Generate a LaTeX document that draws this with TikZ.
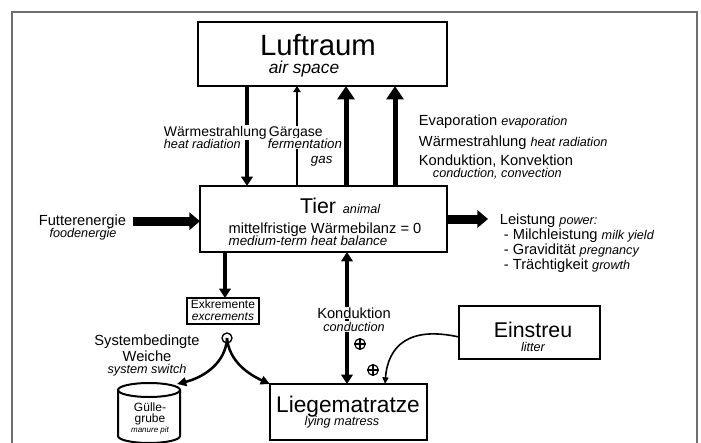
\documentclass[tikz,border=0pt]{standalone}
\usepackage{fontspec}
\setmainfont{Liberation Sans}
\usepackage{tikz}
\usetikzlibrary{arrows.meta}

\newcommand{\engl}[1]{{\fontsize{9.5}{10}\selectfont\itshape #1}}

\begin{document}
\begin{tikzpicture}[x=0.75pt,y=0.75pt,yscale=-1,xscale=1,
  blockbox/.style={draw, line width=2.2pt, inner sep=0pt, outer sep=0pt},
  txt/.style={font=\fontsize{11}{12}\selectfont, inner sep=0.5pt},
  txts/.style={font=\fontsize{10.5}{11}\selectfont, inner sep=0.5pt},
  ital/.style={font=\fontsize{9.5}{10}\selectfont\itshape, inner sep=0.5pt},
  whitebg/.style={fill=white},
  plussign/.style={circle, draw, line width=0.9pt, minimum size=8pt, inner sep=0pt},
  fattip/.tip={Triangle[length=8pt,width=13pt]},
  thicktip/.tip={Triangle[length=10pt,width=12.5pt]},
  medtip/.tip={Triangle[length=7pt,width=8.5pt]},
  thintip/.tip={Triangle[length=4.5pt,width=5.5pt]},
  bendtip/.tip={Triangle[length=7pt,width=6.5pt]},
  smalltip/.tip={Triangle[length=5pt,width=4.5pt]}
  ]
\useasboundingbox (0,0) rectangle (701,443);

%Shape: Frame
\draw [color={rgb, 255:red, 110; green, 110; blue, 110 }, line width=1pt] (12,450) -- (12,12) -- (697,12) -- (697,450) ;

%Shape: Rectangle
\node (luft) [blockbox, minimum width=186.75pt, minimum height=48pt] at (322.5,54) {};
%Shape: Rectangle
\node (tier) [blockbox, minimum width=185.25pt, minimum height=49.5pt] at (323.5,219) {};
%Shape: Rectangle
\node (exkr) [blockbox, line width=1.6pt, minimum width=54pt, minimum height=19.5pt] at (223,311) {};
%Shape: Rectangle
\node (einstreu) [blockbox, minimum width=105.75pt, minimum height=39.75pt] at (529.5,332.5) {};
%Shape: Rectangle
\node (liege) [blockbox, minimum width=117.75pt, minimum height=42pt] at (348.5,412) {};
%Shape: Can
\draw [line width=1.5pt] (149,390) ellipse [x radius=31, y radius=7] ;
\draw [line width=1.5pt] (118,390) -- (118,436) arc [start angle=180, end angle=0, x radius=31, y radius=7] -- (180,390) ;
\coordinate (gtop) at (177,384);
%Shape: Circle
\node (sw) [circle, draw, line width=1pt, minimum size=7.5pt, inner sep=0pt] at (227,338) {};

\coordinate (xws) at (247,0);
\coordinate (xgg) at (297,0);
\coordinate (xev) at (346,0);
\coordinate (xkk) at (395,0);
\coordinate (xex) at (225,0);
\coordinate (xkd) at (347,0);
\coordinate (xes) at (385,0);
\coordinate (xle) at (488,0);
%Straight Lines
\draw [line width=3pt, -medtip] (luft.south -| xws) -- (tier.north -| xws) ;
%Straight Lines
\draw [line width=1.6pt, -thintip] (tier.north -| xgg) -- (luft.south -| xgg) ;
%Straight Lines
\draw [line width=3.75pt, -thicktip] (tier.north -| xev) -- (luft.south -| xev) ;
%Straight Lines
\draw [line width=3.75pt, -thicktip] (tier.north -| xkk) -- (luft.south -| xkk) ;
%Straight Lines
\draw [line width=3pt, -medtip] (tier.south -| xex) -- (exkr.north -| xex) ;
%Straight Lines
\draw [line width=3pt, medtip-medtip] (tier.south -| xkd) -- (liege.north -| xkd) ;
%Straight Lines
\draw [line width=6.75pt, -fattip] (tier.east) -- (tier.east -| xle) ;
%Curve Lines
\draw [line width=1.9pt, -bendtip] (sw.center) .. controls (226,362) and (205,377) .. (gtop) ;
%Curve Lines
\draw [line width=1.9pt, -bendtip] (sw.center) .. controls (229,362) and (250,375) .. (liege.north west) ;
%Curve Lines
\draw [line width=1.2pt, -smalltip] ([yshift=3.4pt]einstreu.west) .. controls (410,326) and (388,345) .. (liege.north -| xes) ;

% Text Node
\draw (318,55) node [anchor=base, inner sep=0pt, font=\fontsize{22}{24}\selectfont] (tLuft) {Luftraum};
% Text Node
\draw (304,73) node [anchor=base, inner sep=0pt, font=\fontsize{13}{14}\selectfont\itshape] (tAir) {air space};
% Text Node
\draw (318,213) node [anchor=base, inner sep=0pt, font=\fontsize{16}{18}\selectfont] (tTier) {Tier};
% Text Node
\draw (342,213) node [anchor=base west, ital] (tAnimal) {animal};
% Text Node
\draw (325,233) node [anchor=base, txt] (tBilanz) {mittelfristige Wärmebilanz = 0};
% Text Node
\draw (308,245) node [anchor=base, ital, font=\fontsize{10}{11}\selectfont\itshape] (tBalance) {medium-term heat balance};
% Text Node
\draw (163,136) node [anchor=base west, txts, whitebg] (tStrahl) {Wärmestrahlung};
% Text Node
\draw (163,148) node [anchor=base west, ital, whitebg] (tRadiation) {heat radiation};
% Text Node
\draw (268,136) node [anchor=base west, txts, whitebg] (tGas) {Gärgase};
% Text Node
\draw (267,148) node [anchor=base west, ital, font=\fontsize{10}{11}\selectfont\itshape, whitebg] (tFerment) {fermentation};
% Text Node
\draw (310,163) node [anchor=base west, ital, font=\fontsize{10}{11}\selectfont\itshape] (tGasEn) {gas};
% Text Node
\draw (418,125) node [anchor=base west, txt] (tEvap) {Evaporation \engl{evaporation}};
% Text Node
\draw (418,146) node [anchor=base west, txt] (tStrahlR) {Wärmestrahlung \engl{heat radiation}};
% Text Node
\draw (418,165) node [anchor=base west, txt] (tKonv) {Konduktion, Konvektion};
% Text Node
\draw (432,177) node [anchor=base west, ital] (tConv) {conduction, convection};
% Text Node
\draw (127,225) node [anchor=base east, txt] (tFutter) {Futterenergie};
% Text Node
\draw (83,237) node [anchor=base, ital] (tFood) {foodenergie};
% Text Node
\draw (499,224) node [anchor=base west, txt] (tLeist) {Leistung \engl{power:}};
% Text Node
\draw (503,239) node [anchor=base west, txt] (tMilch) {- Milchleistung \engl{milk yield}};
% Text Node
\draw (503,254) node [anchor=base west, txt] (tGrav) {- Gravidität \engl{pregnancy}};
% Text Node
\draw (503,269) node [anchor=base west, txt] (tTraecht) {- Trächtigkeit \engl{growth}};
% Text Node
\draw (223,308) node [anchor=base, inner sep=0pt, font=\fontsize{9}{10}\selectfont] (tExkr) {Exkremente};
% Text Node
\draw (223,320) node [anchor=base, inner sep=0pt, font=\fontsize{9}{10}\selectfont\itshape] (tExcr) {excrements};
% Text Node
\draw (147,345) node [anchor=base, txt] (tSystem) {Systembedingte};
% Text Node
\draw (147,361) node [anchor=base, txt] (tWeiche) {Weiche};
% Text Node
\draw (147,373) node [anchor=base, ital] (tSwitch) {system switch};
% Text Node
\draw (150,411) node [anchor=base, inner sep=0pt, font=\fontsize{9}{10}\selectfont] (tGuelle) {Gülle-};
% Text Node
\draw (150,422) node [anchor=base, inner sep=0pt, font=\fontsize{9}{10}\selectfont] (tGrube) {grube};
% Text Node
\draw (150,432) node [anchor=base, inner sep=0pt, font=\fontsize{6}{7}\selectfont\itshape] (tPit) {manure pit};
% Text Node
\draw (354,318) node [anchor=base, txt, whitebg] (tKond) {Konduktion};
% Text Node
\draw (354,331) node [anchor=base, ital, whitebg] (tCond) {conduction};
%Shape: Circle
\node (plusA) [plussign] at (360,344) {};
\draw [line width=0.9pt] (plusA.north) -- (plusA.south) (plusA.west) -- (plusA.east) ;
%Shape: Circle
\node (plusB) [plussign] at (373,370) {};
\draw [line width=0.9pt] (plusB.north) -- (plusB.south) (plusB.west) -- (plusB.east) ;
% Text Node
\draw (533,337) node [anchor=base, inner sep=0pt, font=\fontsize{16}{18}\selectfont] (tEinstreu) {Einstreu};
% Text Node
\draw (533,351) node [anchor=base, ital] (tLitter) {litter};
% Text Node
\draw (348,412) node [anchor=base, inner sep=0pt, font=\fontsize{17}{19}\selectfont] (tLiege) {Liegematratze};
% Text Node
\draw (342,425) node [anchor=base, ital] (tMatress) {lying matress};

% Straight Lines
\draw [line width=6.75pt, -fattip] ([xshift=4.5pt]tFutter.east) -- (tFutter.east -| tier.west) ;

\end{tikzpicture}
\end{document}
